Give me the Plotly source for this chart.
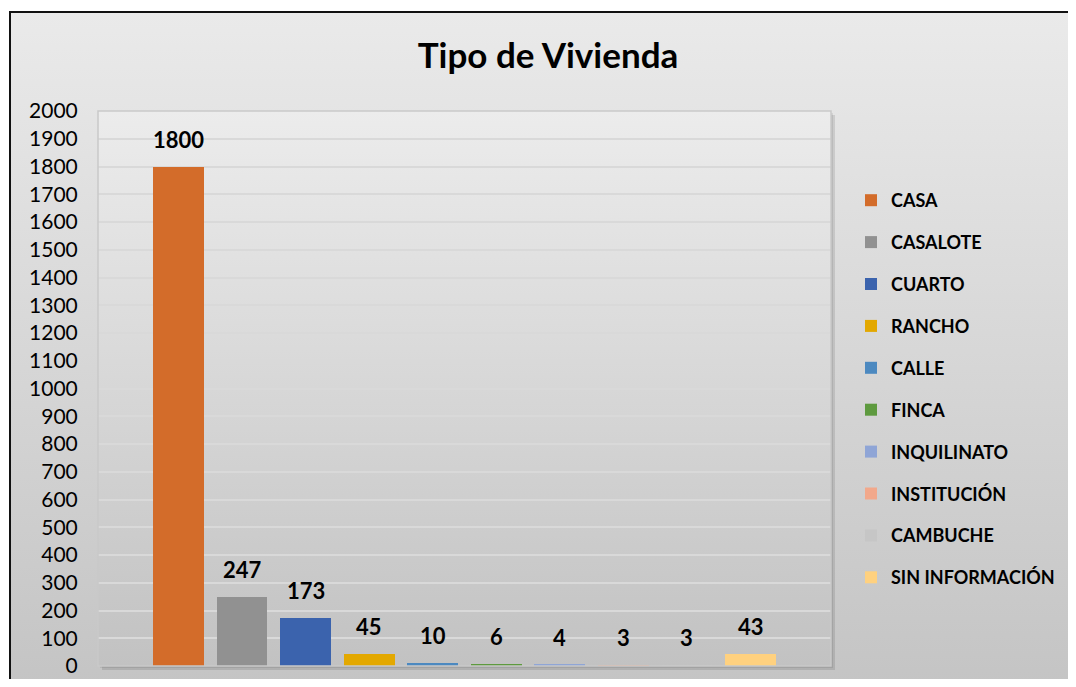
import base64
import plotly.graph_objects as go

categories = ["CASA", "CASALOTE", "CUARTO", "RANCHO", "CALLE", "FINCA",
              "INQUILINATO", "INSTITUCIÓN", "CAMBUCHE", "SIN INFORMACIÓN"]
values = [1800, 247, 173, 45, 10, 6, 4, 3, 3, 43]
colors = ["#D36C2A", "#919191", "#3B63AD", "#E3A800", "#4C89C0", "#5E9A3F",
          "#8FA5D6", "#F2A88B", "#C6C6C6", "#FFD17F"]
y_ticks = list(range(0, 2001, 100))

OFF = 8  # browser default body margin
PAGE_W, PAGE_H = 1076, 687
W, H = PAGE_W - 2 * OFF, PAGE_H - 2 * OFF
# plot area in page pixels
L, R, T, B = 98 - OFF, 831 - OFF, 111 - OFF, 666 - OFF
pw, ph = R - L, B - T


def px_x(p):
    return (p - OFF - L) / pw


def px_y(p):
    return (B - (p - OFF)) / ph


def grad_uri(c1, c2):
    svg = (
        "<svg xmlns='http://www.w3.org/2000/svg' width='100' height='100' preserveAspectRatio='none'>"
        "<defs><linearGradient id='g' x1='0' y1='0' x2='0' y2='1'>"
        f"<stop offset='0' stop-color='{c1}'/><stop offset='1' stop-color='{c2}'/>"
        "</linearGradient></defs><rect width='100' height='100' fill='url(#g)'/></svg>"
    )
    return "data:image/svg+xml;base64," + base64.b64encode(svg.encode()).decode()


FONT = "Lato"

fig = go.Figure()
for i, (c, v, col) in enumerate(zip(categories, values, colors)):
    fig.add_trace(go.Bar(
        x=[i], y=[v], name=c, width=0.8, marker=dict(color=col, line=dict(width=0)),
        legendgroup=c, hoverinfo="name+y",
    ))

annotations = [
    dict(x=i, y=v, text=f"<b>{v}</b>", showarrow=False, xref="x", yref="y",
         yanchor="bottom", yshift=12, font=dict(family=FONT, size=22, color="#000000"))
    for i, v in enumerate(values)
]

images = [
    dict(source=grad_uri("#eaeaea", "#c3c3c3"), xref="paper", yref="paper",
         x=px_x(10), y=px_y(12), sizex=(PAGE_W + 20 - 10) / pw,
         sizey=(PAGE_H + 20 - 12) / ph,
         sizing="stretch", layer="below", xanchor="left", yanchor="top"),
    dict(source=grad_uri("#ececec", "#c2c2c2"), xref="paper", yref="paper",
         x=0, y=1, sizex=1, sizey=1, sizing="stretch", layer="below",
         xanchor="left", yanchor="top"),
]

sx = 1 / pw
sy = 1 / ph
shapes = [
    # soft shadow on right and bottom edges of plot area
    dict(type="rect", xref="paper", yref="paper", x0=1, x1=1 + 4 * sx,
         y0=-4 * sy, y1=1 - 4 * sy, fillcolor="rgba(0,0,0,0.10)",
         line=dict(width=0), layer="below"),
    dict(type="rect", xref="paper", yref="paper", x0=4 * sx, x1=1,
         y0=-4 * sy, y1=0, fillcolor="rgba(0,0,0,0.10)",
         line=dict(width=0), layer="below"),
    dict(type="rect", xref="paper", yref="paper", x0=1, x1=1 + 2 * sx,
         y0=-2 * sy, y1=1 - 2 * sy, fillcolor="rgba(0,0,0,0.08)",
         line=dict(width=0), layer="below"),
    dict(type="rect", xref="paper", yref="paper", x0=2 * sx, x1=1,
         y0=-2 * sy, y1=0, fillcolor="rgba(0,0,0,0.08)",
         line=dict(width=0), layer="below"),
    # plot area border
    dict(type="rect", xref="paper", yref="paper", x0=0, x1=1, y0=0, y1=1,
         line=dict(color="#c9c9c9", width=1.5), layer="above"),
    # outer chart border
    dict(type="rect", xref="paper", yref="paper", x0=px_x(10), x1=px_x(PAGE_W + 30),
         y0=px_y(PAGE_H + 30), y1=px_y(12), line=dict(color="#111111", width=2),
         layer="above"),
]

fig.update_layout(
    width=W, height=H,
    margin=dict(l=L, r=W - R, t=T, b=H - B, pad=0, autoexpand=False),
    paper_bgcolor="#ffffff",
    plot_bgcolor="rgba(0,0,0,0)",
    font=dict(family=FONT, color="#000000"),
    title=dict(text="<b>Tipo de Vivienda</b>", x=(548 - OFF) / W,
               xanchor="center", y=1 - (56 - OFF) / H, yanchor="middle",
               font=dict(family=FONT, size=35, color="#000000")),
    barmode="overlay",
    bargap=0,
    showlegend=True,
    legend=dict(x=px_x(851), xanchor="left", y=px_y(182), yanchor="top",
                traceorder="grouped", tracegroupgap=15.5,
                font=dict(family=FONT, size=18, color="#000000", weight="bold"),
                bgcolor="rgba(0,0,0,0)", itemclick=False, itemdoubleclick=False),
    xaxis=dict(range=[-1.266, len(categories) - 1 + 1.266], showticklabels=False,
               showgrid=False, zeroline=False, showline=False, fixedrange=True,
               automargin=False),
    yaxis=dict(range=[0, 2000], tickvals=y_ticks, ticktext=[str(t) for t in y_ticks],
               showgrid=True, gridcolor="#d9d9d9", gridwidth=1.5, zeroline=False,
               showline=False, ticks="outside", ticklen=15, tickcolor="rgba(0,0,0,0)",
               tickfont=dict(family=FONT, size=21, color="#000000"), fixedrange=True,
               automargin=False),
    annotations=annotations,
    images=images,
    shapes=shapes,
)

fig.write_html("out.html")
